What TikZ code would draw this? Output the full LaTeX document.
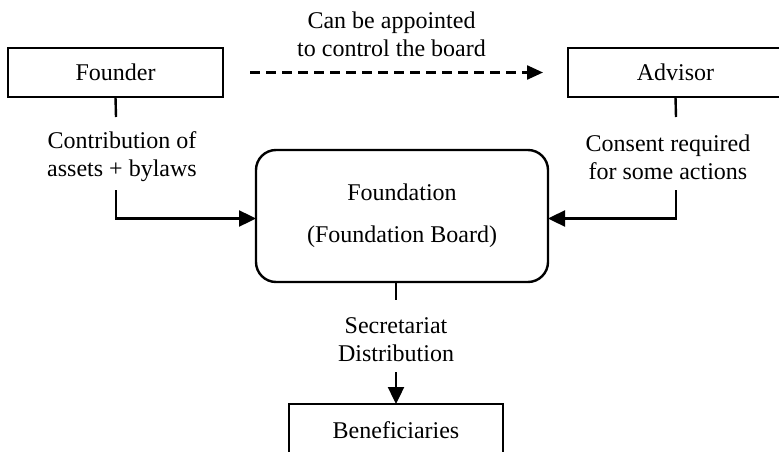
\documentclass[tikz,border=0pt]{standalone}
\usepackage{fontspec}
\setmainfont{Liberation Serif}
\usetikzlibrary{arrows.meta}
\begin{document}
\begin{tikzpicture}[x=1pt,y=-1pt,
  every node/.style={font=\fontsize{24}{28}\selectfont, outer sep=0pt},
  box/.style={draw, line width=2.4pt, rectangle, minimum width=215pt, minimum height=49pt, inner sep=0pt},
  rbox/.style={draw, line width=2.4pt, rectangle, rounded corners=20pt, minimum width=292pt, minimum height=132pt, align=center, inner sep=0pt},
  lbl/.style={align=center, inner sep=0pt},
  conn/.style={line width=2.4pt},
  arr/.style={line width=2.4pt, -{Triangle[length=17pt,width=16pt]}},
  darr/.style={line width=2.4pt, dash pattern=on 10pt off 6pt, -{Triangle[length=16pt,width=14pt]}}
]
\useasboundingbox (0,0) rectangle (779,452);
\clip (0,0) rectangle (779,452);

\node[box] (founder) at (115.5,72.5) {Founder};
\node[box] (advisor) at (675.5,72.5) {Advisor};
\node[rbox] (foundation) at (402,216) {Foundation\\[14pt](Foundation Board)};
\node[box, anchor=north, minimum width=214pt, minimum height=52pt] (ben) at (396,404) {Beneficiaries};

\node[lbl] (appoint) at (391.5,34) {Can be appointed\\to control the board};
\node[lbl] (contrib) at (122,157) {Contribution of\\assets + bylaws};
\node[lbl] (consent) at (668,157) {Consent required\\for some actions};
\node[lbl] (secr) at (396,340) {Secretariat\\Distribution};

% founder -> foundation
\coordinate (fs) at (116,117);
\coordinate (fb) at (116,190);
\draw[conn] (founder.south) -- (fs);
\draw[arr] (fb) |- ([yshift=-2.5pt]foundation.west);

% advisor -> foundation
\coordinate (as) at (676,117);
\coordinate (ab) at (676,190);
\draw[conn] (advisor.south) -- (as);
\draw[arr] (ab) |- ([yshift=-2.5pt]foundation.east);

% foundation -> beneficiaries
\coordinate (ds) at (396,300);
\coordinate (db) at (396,372);
\draw[conn] ([xshift=-6pt]foundation.south) -- (ds);
\draw[arr] (db) -- (ben.north);

% dashed founder -> advisor
\draw[darr] ([xshift=27pt]founder.east) -- ([xshift=-25pt]advisor.west);
\end{tikzpicture}
\end{document}
